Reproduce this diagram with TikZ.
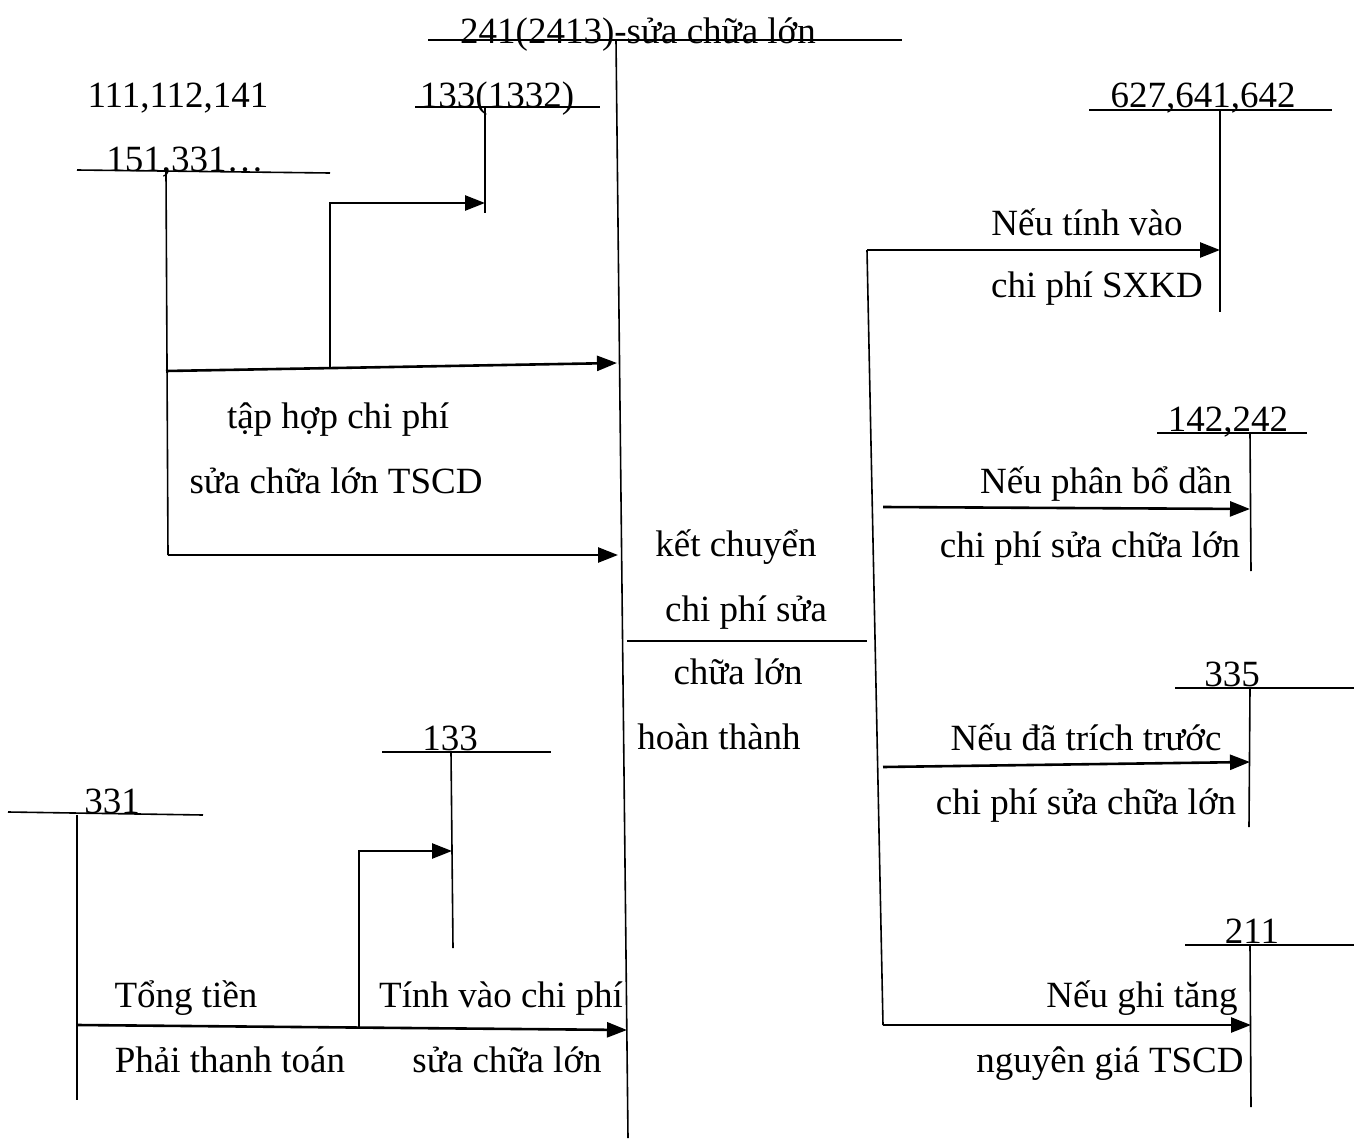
\documentclass[tikz,border=0pt]{standalone}
\usepackage{fontspec}
\setmainfont{Liberation Serif}
\usetikzlibrary{arrows.meta}
\begin{document}
\begin{tikzpicture}[x=1pt,y=-1pt,
  lbl/.style={inner sep=0pt,anchor=base,font=\fontsize{37}{41}\selectfont},
  acct/.style={line width=1.6pt},
  flow/.style={line width=2.6pt,-{Triangle[length=20pt,width=15pt]}}]
\useasboundingbox (0,0) rectangle (1361,1140);
% ---- central account 241
\coordinate (t241L) at (428,40); \coordinate (t241R) at (902,40);
\coordinate (t241T) at (616,40); \coordinate (t241B) at (628,1138);
\draw[acct] (t241L) -- (t241R);
\draw[acct] (t241T) -- (t241B);
\node[lbl] (n241) at (638,44) {241(2413)-sửa chữa lớn};
% ---- 111,112,141 / 151,331
\node[lbl] (n111) at (178,107) {111,112,141};
\node[lbl] (n151) at (185,171) {151,331…};
\coordinate (a111L) at (77,170); \coordinate (a111R) at (330,173);
\coordinate (a111T) at (166,172); \coordinate (a111B) at (168,555);
\draw[acct] (a111L) -- (a111R);
\draw[acct] (a111T) -- (a111B);
% ---- 133(1332)
\node[lbl] (n1332) at (497,107) {133(1332)};
\coordinate (a1332L) at (415,107); \coordinate (a1332R) at (600,107);
\coordinate (a1332T) at (485,107); \coordinate (a1332B) at (485,213);
\draw[acct] (a1332L) -- (a1332R);
\draw[acct] (a1332T) -- (a1332B);
% ---- flows top-left
\coordinate (f1s) at (166,371); \coordinate (f1e) at (617,363);
\coordinate (j1) at (330,369); \coordinate (j1t) at (330,203); \coordinate (f2e) at (485,203);
\draw[flow] (f1s) -- (f1e);
\draw[flow] (j1) -- (j1t) -- (f2e);
\coordinate (f3s) at (168,555); \coordinate (f3e) at (618,555);
\draw[flow] (f3s) -- (f3e);
\node[lbl] (tap1) at (338,428) {tập hợp chi phí};
\node[lbl] (tap2) at (336,493) {sửa chữa lớn TSCD};
% ---- middle
\node[lbl] (k1) at (736,556) {kết chuyển};
\node[lbl] (k2) at (746,621) {chi phí sửa};
\node[lbl] (k3) at (738,684) {chữa lớn};
\node[lbl] (k4) at (719,749) {hoàn thành};
\coordinate (mL) at (627,641); \coordinate (mR) at (867,641);
\draw[acct] (mL) -- (mR);
% ---- right trunk
\coordinate (rT) at (867,250); \coordinate (rB) at (883,1025);
\draw[acct] (rT) -- (rB);
% 627,641,642
\node[lbl] (n627) at (1203,107) {627,641,642};
\coordinate (a627L) at (1089,110); \coordinate (a627R) at (1332,110);
\coordinate (a627T) at (1220,110); \coordinate (a627B) at (1220,312);
\draw[acct] (a627L) -- (a627R);
\draw[acct] (a627T) -- (a627B);
\coordinate (r1e) at (1220,250);
\draw[flow] (rT) -- (r1e);
\node[lbl] (r1a) at (1087,235) {Nếu tính vào};
\node[lbl] (r1b) at (1097,297) {chi phí SXKD};
% 142,242
\node[lbl] (n142) at (1228,431) {142,242};
\coordinate (a142L) at (1157,433); \coordinate (a142R) at (1307,433);
\coordinate (a142T) at (1250,433); \coordinate (a142B) at (1251,571);
\draw[acct] (a142L) -- (a142R);
\draw[acct] (a142T) -- (a142B);
\coordinate (r2s) at (883,507); \coordinate (r2e) at (1250,509);
\draw[flow] (r2s) -- (r2e);
\node[lbl] (r2a) at (1106,493) {Nếu phân bổ dần};
\node[lbl] (r2b) at (1090,557) {chi phí sửa chữa lớn};
% 335
\node[lbl] (n335) at (1232,686) {335};
\coordinate (a335L) at (1175,688); \coordinate (a335R) at (1354,688);
\coordinate (a335T) at (1250,688); \coordinate (a335B) at (1249,827);
\draw[acct] (a335L) -- (a335R);
\draw[acct] (a335T) -- (a335B);
\coordinate (r3s) at (883,767); \coordinate (r3e) at (1250,762);
\draw[flow] (r3s) -- (r3e);
\node[lbl] (r3a) at (1086,750) {Nếu đã trích trước};
\node[lbl] (r3b) at (1086,814) {chi phí sửa chữa lớn};
% 211
\node[lbl] (n211) at (1252,943) {211};
\coordinate (a211L) at (1185,945); \coordinate (a211R) at (1354,945);
\coordinate (a211T) at (1250,945); \coordinate (a211B) at (1251,1107);
\draw[acct] (a211L) -- (a211R);
\draw[acct] (a211T) -- (a211B);
\coordinate (r4e) at (1251,1025);
\draw[flow] (rB) -- (r4e);
\node[lbl] (r4a) at (1142,1007) {Nếu ghi tăng};
\node[lbl] (r4b) at (1110,1072) {nguyên giá TSCD};
% ---- bottom-left 331
\node[lbl] (n331) at (112,813) {331};
\coordinate (a331L) at (8,812); \coordinate (a331R) at (203,815);
\coordinate (a331T) at (77,815); \coordinate (a331B) at (77,1100);
\draw[acct] (a331L) -- (a331R);
\draw[acct] (a331T) -- (a331B);
% 133
\node[lbl] (n133) at (450,750) {133};
\coordinate (a133L) at (382,752); \coordinate (a133R) at (551,752);
\coordinate (a133T) at (451,752); \coordinate (a133B) at (453,948);
\draw[acct] (a133L) -- (a133R);
\draw[acct] (a133T) -- (a133B);
\coordinate (b1s) at (77,1025); \coordinate (b1e) at (627,1030);
\draw[flow] (b1s) -- (b1e);
\coordinate (j2) at (359,1027); \coordinate (j2t) at (359,851); \coordinate (b2e) at (452,851);
\draw[flow] (j2) -- (j2t) -- (b2e);
\node[lbl] (b1a) at (186,1007) {Tổng tiền};
\node[lbl] (b1b) at (230,1072) {Phải thanh toán};
\node[lbl] (b2a) at (501,1007) {Tính vào chi phí};
\node[lbl] (b2b) at (507,1072) {sửa chữa lớn};
\end{tikzpicture}
\end{document}
